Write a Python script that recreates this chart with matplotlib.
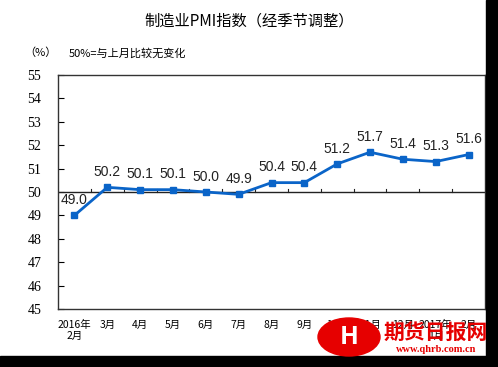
import matplotlib
matplotlib.use("Agg")
import matplotlib.pyplot as plt
from matplotlib.patches import Ellipse, Rectangle

plt.rcParams["font.family"] = ["Noto Sans CJK SC", "DejaVu Sans"]

# PMI, seasonally adjusted, Feb 2016 - Feb 2017
months = ["2016年\n2月", "3月", "4月", "5月", "6月", "7月", "8月", "9月",
          "10月", "11月", "12月", "2017年\n1月", "2月"]
pmi = [49.0, 50.2, 50.1, 50.1, 50.0, 49.9, 50.4, 50.4, 51.2, 51.7, 51.4, 51.3, 51.6]
yticks = list(range(45, 56))

BLUE = "#0a64c8"

fig = plt.figure(figsize=(4.98, 3.67), dpi=100)
ax = fig.add_axes([58 / 498, 1 - 309 / 367, 427 / 498, 234 / 367])

x = list(range(len(pmi)))
ax.plot(x, pmi, color=BLUE, lw=2, marker="s", ms=4.5, zorder=3)
for xi, v in zip(x, pmi):
    ax.annotate(f"{v:.1f}", (xi, v), textcoords="offset points", xytext=(0, 6),
                ha="center", va="bottom", fontsize=10,
                family="Liberation Sans", color="#222222")

ax.set_xlim(-0.5, len(pmi) - 0.5)
ax.set_ylim(45, 55)
ax.set_yticks(yticks)
ax.set_yticklabels([str(t) for t in yticks], family="Liberation Serif", fontsize=10)
ax.tick_params(axis="y", direction="in", length=4, pad=12)
ax.set_xticks(x)
ax.set_xticklabels(months, fontsize=7.5, linespacing=1.1)
ax.tick_params(axis="x", length=0, pad=8)

# 50 line with category boundary ticks
ax.axhline(50, color="#222222", lw=1, zorder=2)
for b in range(len(pmi) - 1):
    ax.plot([b + 0.5, b + 0.5], [50, 50.12], color="#222222", lw=0.8)

for s in ax.spines.values():
    s.set_color("#333333")
    s.set_linewidth(1)

fig.text(0.5, 1 - 21 / 367, "制造业PMI指数（经季节调整）", ha="center", va="center",
         fontsize=11)
fig.text(40 / 498, 1 - 53 / 367, "（%）", ha="center", va="center", fontsize=8)
fig.text(69 / 498, 1 - 53 / 367, "50%=与上月比较无变化", ha="left", va="center",
         fontsize=8)

# watermark
fig.patches.append(Ellipse((349 / 498, 1 - 337 / 367), 62 / 498, 38 / 367,
                           transform=fig.transFigure, color="#e60000", zorder=5))
fig.text(349 / 498, 1 - 337 / 367, "H", ha="center", va="center", color="white",
         fontsize=18, weight="bold", zorder=6)
fig.text(436 / 498, 1 - 333 / 367, "期货日报网", ha="center", va="center",
         color="#e60000", fontsize=15, weight="bold", zorder=6)
fig.text(436 / 498, 1 - 350 / 367, "www.qhrb.com.cn", ha="center", va="center",
         color="#e60000", fontsize=7.5, weight="bold", family="Liberation Serif",
         zorder=6)

# black border bands of the original picture
fig.patches.append(Rectangle((486 / 498, 0), 12 / 498, 1, transform=fig.transFigure,
                             color="black", zorder=4))
fig.patches.append(Rectangle((0, 0), 1, 11 / 367, transform=fig.transFigure,
                             color="black", zorder=4))

fig.savefig("out.png", dpi=100)
